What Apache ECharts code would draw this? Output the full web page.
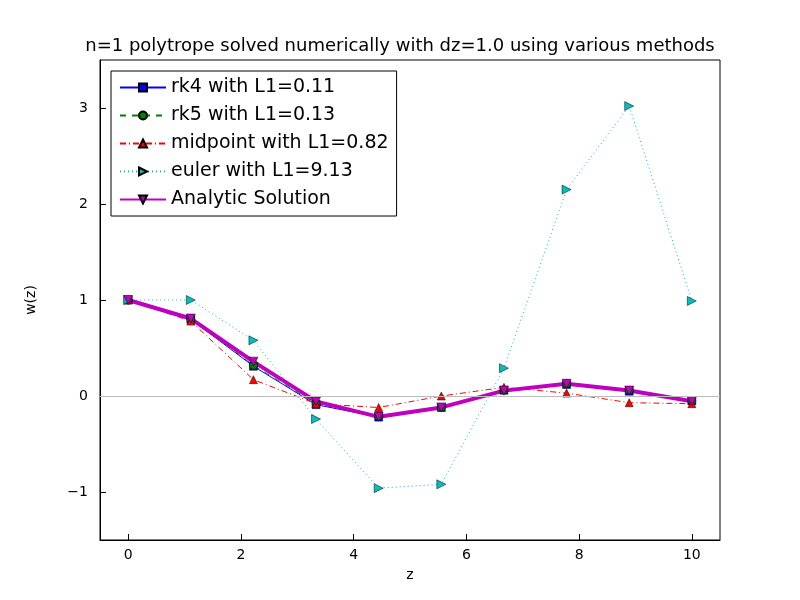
<!DOCTYPE html>
<html>
<head>
<meta charset="utf-8">
<title>polytrope</title>
<script src="https://cdn.jsdelivr.net/npm/echarts@6/dist/echarts.min.js"></script>
<style>html,body{margin:0;background:#fff}#c{width:800px;height:600px}</style>
</head>
<body>
<div id="c"></div>
<script>
// z grid
var zs = [0, 1.111, 2.222, 3.333, 4.444, 5.556, 6.667, 7.778, 8.889, 10];
var rk4 = [1, 0.80, 0.31, -0.09, -0.22, -0.12, 0.06, 0.12, 0.05, -0.05];
var rk5 = [1, 0.80, 0.32, -0.08, -0.21, -0.12, 0.06, 0.13, 0.06, -0.05];
var midpoint = [1, 0.78, 0.17, -0.08, -0.12, 0.00, 0.09, 0.03, -0.07, -0.08];
var euler = [1, 1.00, 0.58, -0.24, -0.96, -0.92, 0.29, 2.15, 3.02, 0.99];
var analytic = [1, 0.807, 0.358, -0.056, -0.217, -0.119, 0.056, 0.128, 0.057, -0.054];
var xTicks = [0, 2, 4, 6, 8, 10];
var yTicks = [-1, 0, 1, 2, 3];

function pts(ys) { return zs.map(function (z, i) { return [z, ys[i]]; }); }
var tri = 'path://M0,0L10,0L5,10Z';
var rightTri = 'path://M0,0L10,5L0,10Z';
var f = 'DejaVu Sans';

var chart = echarts.init(document.getElementById('c'));
chart.setOption({
	animation: false,
	textStyle: { fontFamily: f },
	title: { text: 'n=1 polytrope solved numerically with dz=1.0 using various methods', left: 'center', top: 32,
		textStyle: { fontFamily: f, fontSize: 18, fontWeight: 'normal', color: '#000' } },
	grid: { left: 100, right: 80, top: 60, bottom: 60, show: true, borderColor: '#000', borderWidth: 1, backgroundColor: 'transparent' },
	xAxis: { type: 'value', min: -0.5, max: 10.5, name: 'z', nameLocation: 'middle', nameGap: 28,
		nameTextStyle: { fontSize: 14, color: '#000' },
		axisLine: { onZero: false, lineStyle: { color: '#000' } },
		axisTick: { inside: true, length: 6, customValues: xTicks, lineStyle: { color: '#000' } },
		axisLabel: { fontSize: 14, color: '#000', customValues: xTicks },
		splitLine: { show: false } },
	yAxis: { type: 'value', min: -1.5, max: 3.5, name: 'w(z)', nameLocation: 'middle', nameGap: 62,
		nameTextStyle: { fontSize: 14, color: '#000' },
		axisLine: { onZero: false, lineStyle: { color: '#000' } },
		axisTick: { inside: true, length: 6, customValues: yTicks, lineStyle: { color: '#000' } },
		axisLabel: { fontSize: 14, color: '#000', margin: 12, customValues: yTicks, formatter: function (v) { return v < 0 ? '\u2212' + (-v) : v; } },
		splitLine: { show: false } },
	legend: { orient: 'vertical', left: 111, top: 71, itemWidth: 46, itemHeight: 10, itemGap: 9,
		padding: [7, 8, 7, 8], borderColor: '#000', borderWidth: 1, backgroundColor: '#fff',
		textStyle: { fontSize: 19, color: '#000' } },
	series: [
		{ name: 'rk4 with L1=0.11', type: 'line', data: pts(rk4), symbol: 'rect', symbolSize: 8,
			lineStyle: { color: '#0000ff', width: 1 }, itemStyle: { color: '#0000ff', borderColor: '#000', borderWidth: 0.5 },
			markLine: { silent: true, symbol: 'none', label: { show: false }, lineStyle: { color: '#bbb', type: 'solid', width: 1 }, data: [{ yAxis: 0 }] } },
		{ name: 'rk5 with L1=0.13', type: 'line', data: pts(rk5), symbol: 'circle', symbolSize: 8,
			lineStyle: { color: '#008000', width: 1, type: [6, 6] }, itemStyle: { color: '#008000', borderColor: '#000', borderWidth: 0.5 } },
		{ name: 'midpoint with L1=0.82', type: 'line', data: pts(midpoint), symbol: tri, symbolRotate: 180, symbolSize: 8,
			lineStyle: { color: '#ff0000', width: 1, type: [6, 3, 1, 3] }, itemStyle: { color: '#ff0000', borderColor: '#000', borderWidth: 0.5 } },
		{ name: 'euler with L1=9.13', type: 'line', data: pts(euler), symbol: rightTri, symbolSize: 9,
			lineStyle: { color: '#00bfbf', width: 1, type: [1, 3] }, itemStyle: { color: '#00bfbf', borderColor: '#000', borderWidth: 0.5 } },
		{ name: 'Analytic Solution', type: 'line', data: pts(analytic), symbol: tri, symbolSize: 9,
			lineStyle: { color: '#bf00bf', width: 4 }, itemStyle: { color: '#bf00bf', borderColor: '#000', borderWidth: 0.5 } }
	]
});
</script>
</body>
</html>
